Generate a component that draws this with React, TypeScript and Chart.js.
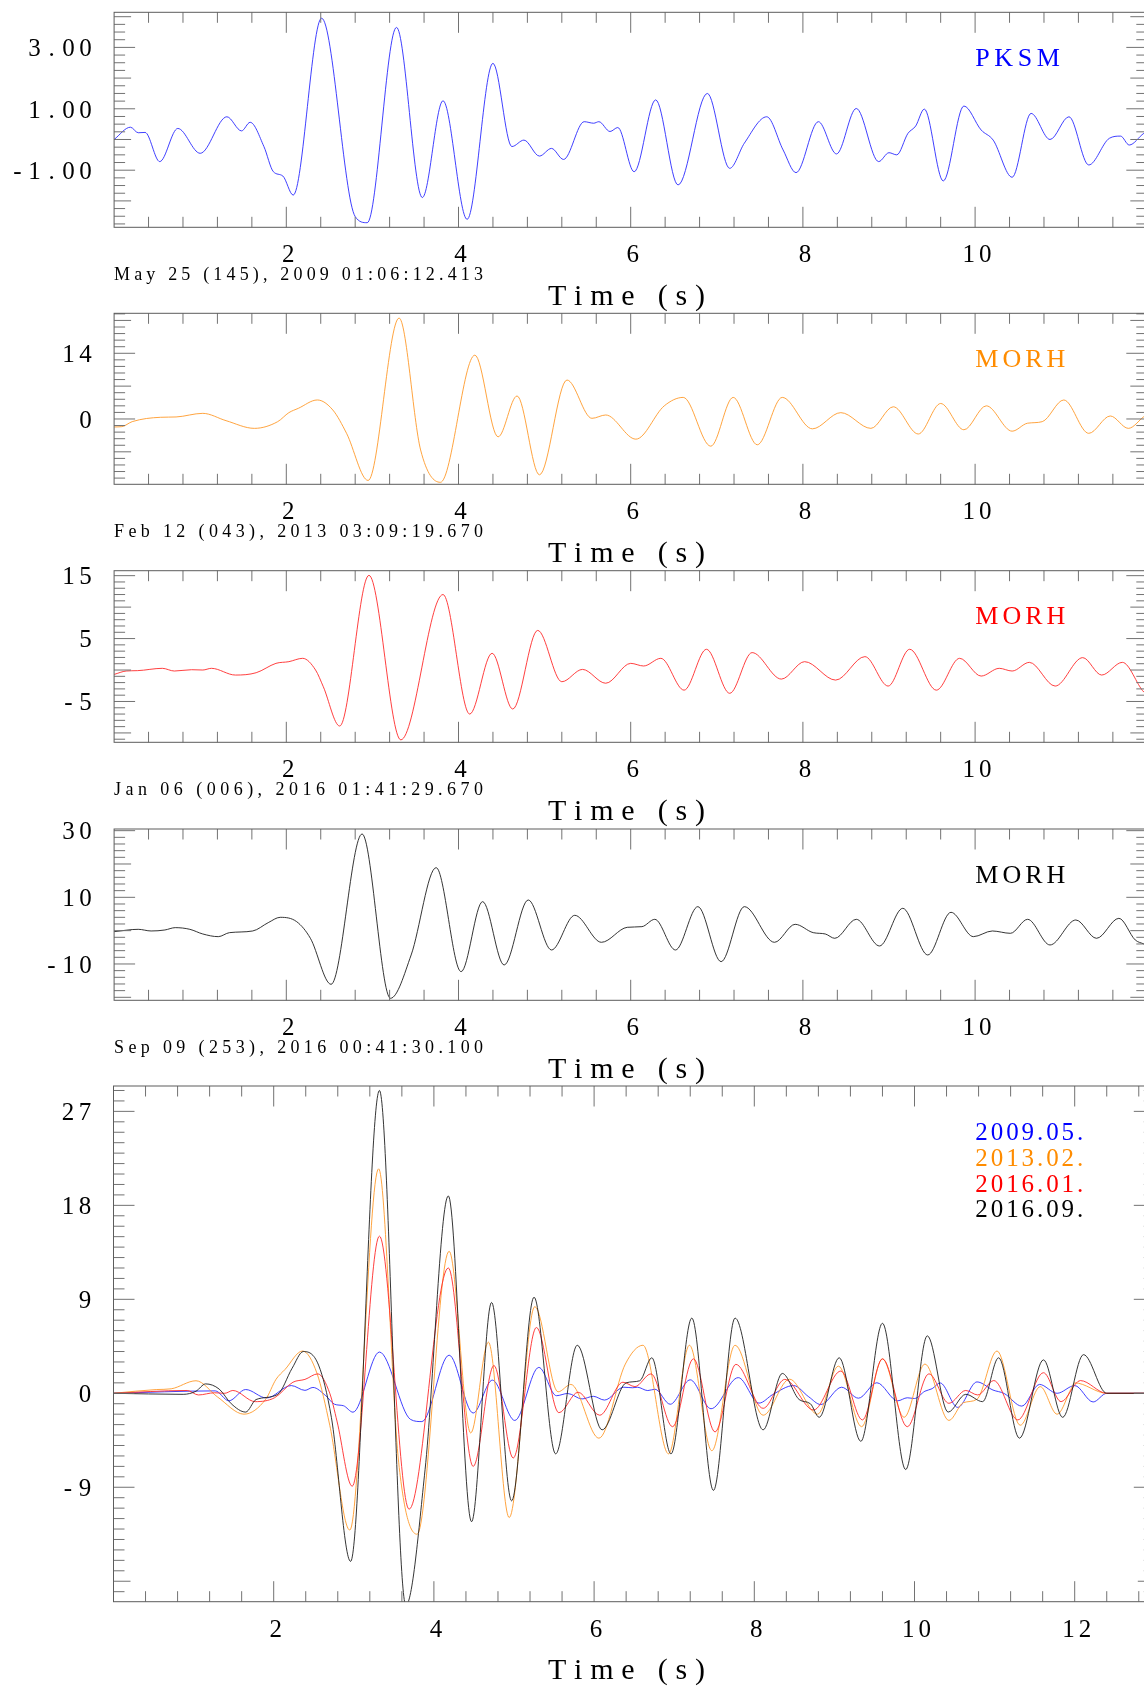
import React, { useEffect, useRef } from "react";
import { Chart, registerables } from "chart.js";

Chart.register(...registerables);

// ---------- waveform samples (time in s, amplitude) ----------
// PKSM, 2009-05-25
const PKSM_T = [0, 0.19, 0.28, 0.36, 0.53, 0.74, 1.0, 1.31, 1.48, 1.58, 1.74, 1.85, 1.96, 2.08, 2.41, 2.8, 2.94, 3.28, 3.58, 3.82, 4.1, 4.4, 4.62, 4.76, 4.94, 5.08, 5.22, 5.46, 5.57, 5.63, 5.76, 5.85, 6.04, 6.29, 6.55, 6.89, 7.15, 7.32, 7.58, 7.77, 7.92, 8.18, 8.39, 8.62, 8.88, 9.0, 9.09, 9.22, 9.31, 9.41, 9.63, 9.87, 10.07, 10.21, 10.43, 10.65, 10.87, 11.09, 11.32, 11.56, 11.69, 11.79, 11.96, 12.0];
const PKSM_V = [0.0, 0.4, 0.22, 0.23, -0.72, 0.36, -0.45, 0.74, 0.28, 0.56, -0.23, -1.05, -1.19, -1.81, 3.95, -2.51, -2.71, 3.65, -1.89, 1.26, -2.6, 2.48, -0.23, -0.02, -0.54, -0.29, -0.65, 0.58, 0.53, 0.58, 0.26, 0.39, -1.05, 1.29, -1.48, 1.5, -0.94, -0.12, 0.74, -0.34, -1.08, 0.58, -0.47, 1.01, -0.72, -0.43, -0.5, 0.2, 0.44, 0.99, -1.35, 1.09, 0.31, -0.02, -1.23, 0.85, 0.0, 0.74, -0.83, 0.04, 0.11, -0.18, 0.2, 0.25];

// MORH, 2013-02-12
const MORH13_T = [0, 0.09, 0.21, 0.54, 0.72, 1.03, 1.3, 1.63, 1.9, 2.03, 2.14, 2.36, 2.54, 2.7, 2.95, 3.31, 3.56, 3.79, 4.19, 4.46, 4.68, 4.94, 5.26, 5.55, 5.71, 6.06, 6.39, 6.61, 6.93, 7.19, 7.47, 7.76, 8.11, 8.44, 8.79, 9.05, 9.34, 9.6, 9.87, 10.13, 10.43, 10.61, 10.78, 11.03, 11.32, 11.57, 11.78, 11.96, 12.0];
const MORH13_V = [-1.7, -1.63, -0.57, 0.36, 0.43, 1.2, -0.36, -2.0, -0.57, 1.35, 2.27, 4.05, 1.92, -3.06, -13.1, 21.5, -6.6, -13.5, 13.6, -3.8, 4.9, -11.9, 8.3, 0.14, 0.85, -4.3, 2.8, 4.6, -5.8, 4.6, -5.5, 4.6, -2.1, 1.35, -2.0, 2.6, -3.2, 3.3, -2.3, 2.8, -2.6, -0.9, -0.57, 4.05, -3.06, 0.64, -2.0, 0.5, 1.0];

// MORH, 2016-01-06
const MORH16A_T = [0, 0.14, 0.27, 0.56, 0.7, 0.9, 1.03, 1.13, 1.41, 1.65, 1.88, 2.03, 2.19, 2.34, 2.43, 2.62, 2.96, 3.33, 3.82, 4.13, 4.39, 4.63, 4.92, 5.2, 5.44, 5.71, 6.0, 6.15, 6.35, 6.62, 6.88, 7.15, 7.41, 7.75, 8.02, 8.38, 8.72, 8.99, 9.24, 9.55, 9.82, 10.07, 10.28, 10.43, 10.63, 10.93, 11.25, 11.47, 11.71, 11.96, 12.0];
const MORH16A_V = [-0.7, -0.16, -0.1, 0.27, -0.16, 0.05, 0.0, 0.27, -0.8, -0.43, 1.06, 1.33, 1.86, 0.0, -2.66, -8.9, 15.05, -11.1, 12.0, -7.0, 2.66, -6.2, 6.3, -1.86, 0.1, -2.1, 1.06, 0.64, 1.86, -3.2, 3.3, -3.7, 2.77, -1.44, 1.33, -1.6, 2.13, -2.55, 3.3, -3.2, 1.86, -0.96, 0.27, -0.16, 1.22, -2.55, 1.97, -0.8, 1.22, -3.5, -3.8];

// MORH, 2016-09-09
const MORH16B_T = [0, 0.28, 0.43, 0.59, 0.71, 0.88, 1.03, 1.21, 1.34, 1.61, 1.79, 1.93, 2.12, 2.28, 2.52, 2.88, 3.21, 3.45, 3.74, 4.03, 4.28, 4.53, 4.81, 5.08, 5.35, 5.66, 5.96, 6.13, 6.28, 6.52, 6.78, 7.05, 7.32, 7.67, 7.91, 8.12, 8.26, 8.37, 8.62, 8.89, 9.16, 9.45, 9.72, 9.98, 10.2, 10.41, 10.61, 10.87, 11.17, 11.41, 11.67, 11.86, 11.96, 12.0];
const MORH16B_V = [-0.3, 0.4, -0.1, 0.2, 0.9, 0.4, -1.0, -1.8, -0.6, -0.1, 2.4, 4.0, 2.7, -2.3, -16.1, 29.0, -20.3, -7.3, 18.9, -12.3, 8.7, -10.3, 9.2, -5.8, 4.6, -3.5, 1.0, 1.2, 3.4, -5.8, 7.2, -9.3, 7.2, -3.5, 1.9, -0.6, -1.0, -2.3, 3.4, -4.6, 6.7, -7.3, 5.5, -1.8, -0.1, -0.8, 3.4, -4.3, 3.2, -2.3, 3.7, -2.8, -4.0, -4.5];

// alignment of each record in the comparison panel (s) and its window
const ALIGN_SHIFT = [0.91, 0.0, 0.36, 0.44];
const ALIGN_LEAD = 0.3;
const ALIGN_END = 12.25;
const ALIGN_ZERO_AT = 12.4;

// dates and labels
const DATES = [
  "May 25 (145), 2009 01:06:12.413",
  "Feb 12 (043), 2013 03:09:19.670",
  "Jan 06 (006), 2016 01:41:29.670",
  "Sep 09 (253), 2016 00:41:30.100",
];
const STATIONS = ["PKSM", "MORH", "MORH", "MORH"];
const LEGEND = ["2009.05.", "2013.02.", "2016.01.", "2016.09."];

const X_LABELS = [2, 4, 6, 8, 10];
const X_LABELS_ALL = [2, 4, 6, 8, 10, 12];
const Y1_TICKS = [3, 1, -1];
const Y1_TEXT = ["3.00", "1.00", "-1.00"];
const Y2_TICKS = [14, 0];
const Y2_TEXT = ["14", "0"];
const Y3_TICKS = [15, 5, -5];
const Y3_TEXT = ["15", "5", "-5"];
const Y4_TICKS = [30, 10, -10];
const Y4_TEXT = ["30", "10", "-10"];
const Y5_TICKS = [27, 18, 9, 0, -9];
const Y5_TEXT = ["27", "18", "9", "0", "-9"];

// ---------- styling ----------
const COLORS = ["#0000ff", "#ff8c00", "#ff0000", "#000000"];
const LINE_COLORS = ["#2a2aff", "#ff9a2a", "#ff2a2a", "#1e1e1e"];
const FRAME = "#5c5c5c";
const TICK = "#727272";
const SERIF = '"Liberation Serif", "Times New Roman", Times, serif';
const CANVAS_W = 1160;
const CANVAS_H = 1686;

type Pt = { x: number; y: number };

function toPoints(t: number[], v: number[]): Pt[] {
  return t.map((x, i) => ({ x, y: v[i] }));
}

function aligned(t: number[], v: number[], shift: number): Pt[] {
  const pts: Pt[] = [{ x: 0, y: 0 }];
  t.forEach((x, i) => {
    const xs = x + shift;
    if (x >= ALIGN_LEAD && xs <= ALIGN_END) pts.push({ x: xs, y: v[i] });
  });
  pts.push({ x: ALIGN_ZERO_AT, y: 0 }, { x: 13, y: 0 });
  return pts;
}

type Series = { data: Pt[]; color: string; order: number };
type PanelCfg = {
  top: number;
  bottom: number;
  left: number;
  right: number;
  xMax: number;
  yMin: number;
  yMax: number;
  xMajor: number;
  xMinor: number;
  yMajor: number;
  yMinor: number;
  xLabels: number[];
  yTicks: number[];
  yText: string[];
  series: Series[];
  date?: string;
  station?: { text: string; color: string; width: number };
  legend?: boolean;
};

const RAW: [number[], number[]][] = [
  [PKSM_T, PKSM_V],
  [MORH13_T, MORH13_V],
  [MORH16A_T, MORH16A_V],
  [MORH16B_T, MORH16B_V],
];

const L14 = 114.1;
const R14 = 114.1 + 12 * 86.1;

const PANELS: PanelCfg[] = [
  {
    top: 12.3, bottom: 227.3, left: L14, right: R14, xMax: 12,
    yMin: -2.86, yMax: 4.143, xMajor: 2, xMinor: 0.4, yMajor: 1, yMinor: 0.25,
    xLabels: X_LABELS, yTicks: Y1_TICKS, yText: Y1_TEXT,
    series: [{ data: toPoints(PKSM_T, PKSM_V), color: LINE_COLORS[0], order: 0 }],
    date: DATES[0], station: { text: STATIONS[0], color: COLORS[0], width: 84.5 },
  },
  {
    top: 313.3, bottom: 484.3, left: L14, right: R14, xMax: 12,
    yMin: -13.92, yMax: 22.52, xMajor: 2, xMinor: 0.4, yMajor: 7, yMinor: 1.4,
    xLabels: X_LABELS, yTicks: Y2_TICKS, yText: Y2_TEXT,
    series: [{ data: toPoints(MORH13_T, MORH13_V), color: LINE_COLORS[1], order: 0 }],
    date: DATES[1], station: { text: STATIONS[1], color: COLORS[1], width: 90 },
  },
  {
    top: 570.7, bottom: 742.3, left: L14, right: R14, xMax: 12,
    yMin: -11.49, yMax: 15.79, xMajor: 2, xMinor: 0.4, yMajor: 5, yMinor: 1,
    xLabels: X_LABELS, yTicks: Y3_TICKS, yText: Y3_TEXT,
    series: [{ data: toPoints(MORH16A_T, MORH16A_V), color: LINE_COLORS[2], order: 0 }],
    date: DATES[2], station: { text: STATIONS[2], color: COLORS[2], width: 90 },
  },
  {
    top: 829, bottom: 1000.3, left: L14, right: R14, xMax: 12,
    yMin: -20.9, yMax: 30.5, xMajor: 2, xMinor: 0.4, yMajor: 10, yMinor: 2,
    xLabels: X_LABELS, yTicks: Y4_TICKS, yText: Y4_TEXT,
    series: [{ data: toPoints(MORH16B_T, MORH16B_V), color: LINE_COLORS[3], order: 0 }],
    date: DATES[3], station: { text: STATIONS[3], color: COLORS[3], width: 90 },
  },
  {
    top: 1086, bottom: 1601.7, left: 113.5, right: 113.5 + 13 * 80.1, xMax: 13,
    yMin: -19.96, yMax: 29.43, xMajor: 2, xMinor: 0.4, yMajor: 9, yMinor: 1,
    xLabels: X_LABELS_ALL, yTicks: Y5_TICKS, yText: Y5_TEXT,
    series: RAW.map(([t, v], i) => ({
      data: aligned(t, v, ALIGN_SHIFT[i]),
      color: LINE_COLORS[i],
      order: 3 - i,
    })),
    legend: true,
  },
];

function steps(min: number, max: number, step: number): number[] {
  const out: number[] = [];
  for (let k = Math.ceil(min / step - 1e-6); k * step <= max + 1e-6; k++) {
    out.push(Math.round(k * step * 1e6) / 1e6);
  }
  return out;
}

function isMultiple(v: number, step: number) {
  const r = v / step;
  return Math.abs(r - Math.round(r)) < 1e-6;
}

// characters laid out on a fixed pitch (axis numbers)
function pitchText(
  ctx: CanvasRenderingContext2D,
  s: string,
  anchor: number,
  baseline: number,
  pitch: number,
  align: "right" | "center"
) {
  const n = s.length;
  ctx.textAlign = "center";
  for (let i = 0; i < n; i++) {
    const cx =
      align === "right"
        ? anchor - 6.3 - (n - 1 - i) * pitch
        : anchor + (i - (n - 1) / 2) * pitch;
    ctx.fillText(s[i], cx, baseline);
  }
}

// letter-spaced text spread over a given width
function spreadText(
  ctx: CanvasRenderingContext2D,
  s: string,
  x: number,
  baseline: number,
  width: number
) {
  ctx.textAlign = "left";
  const chars = [...s];
  const ws = chars.map((c) => ctx.measureText(c).width);
  const natural = ws.reduce((a, b) => a + b, 0);
  const gap = chars.length > 1 ? (width - natural) / (chars.length - 1) : 0;
  let cx = x;
  chars.forEach((c, i) => {
    ctx.fillText(c, cx, baseline);
    cx += ws[i] + gap;
  });
}

function decor(cfg: PanelCfg) {
  return {
    id: "seisDecor",
    afterDatasetsDraw(chart: Chart) {
      const ctx = chart.ctx;
      const a = chart.chartArea;
      const xs = chart.scales.x;
      const ys = chart.scales.y;
      ctx.save();

      // ticks, pointing into the plot on all four sides
      ctx.strokeStyle = TICK;
      ctx.lineWidth = 1;
      ctx.beginPath();
      const xAll = steps(0, cfg.xMax, cfg.xMinor);
      xAll.forEach((v) => {
        if (v <= 0) return;
        const px = xs.getPixelForValue(v);
        const len = isMultiple(v, cfg.xMajor) ? 20.5 : 10.5;
        ctx.moveTo(px, a.bottom);
        ctx.lineTo(px, a.bottom - len);
        ctx.moveTo(px, a.top);
        ctx.lineTo(px, a.top + len);
      });
      const yAll = steps(cfg.yMin, cfg.yMax, cfg.yMinor);
      const yMaj = steps(cfg.yMin, cfg.yMax, cfg.yMajor);
      const tickSet = new Set<number>([...yAll, ...yMaj]);
      tickSet.forEach((v) => {
        const py = ys.getPixelForValue(v);
        const labelled = cfg.yTicks.some((t) => Math.abs(t - v) < 1e-6);
        const major = isMultiple(v, cfg.yMajor);
        const len = labelled ? 21 : major ? 17 : 11;
        ctx.moveTo(a.left, py);
        ctx.lineTo(a.left + len, py);
        ctx.moveTo(a.right, py);
        ctx.lineTo(a.right - len, py);
      });
      ctx.stroke();

      // frame
      ctx.strokeStyle = FRAME;
      ctx.strokeRect(a.left, a.top, a.right - a.left, a.bottom - a.top);

      // axis numbers
      ctx.fillStyle = "#000";
      ctx.font = `25px ${SERIF}`;
      ctx.textBaseline = "alphabetic";
      cfg.yTicks.forEach((v, i) => {
        pitchText(ctx, cfg.yText[i], a.left - 22.3, ys.getPixelForValue(v) + 8.8, 17, "right");
      });
      cfg.xLabels.forEach((v) => {
        pitchText(ctx, String(v), xs.getPixelForValue(v) + 2, a.bottom + 35, 16.5, "center");
      });

      // record time under the axis
      if (cfg.date) {
        ctx.font = `18px ${SERIF}`;
        spreadText(ctx, cfg.date, 114, a.bottom + 52.5, 369);
      }

      // axis title
      ctx.font = `30px ${SERIF}`;
      spreadText(ctx, "Time (s)", 548, a.bottom + 77.5, 157);

      // station name
      if (cfg.station) {
        ctx.fillStyle = cfg.station.color;
        ctx.font = `26px ${SERIF}`;
        spreadText(ctx, cfg.station.text, 975.3, a.top + 53.7, cfg.station.width);
      }

      // event legend
      if (cfg.legend) {
        ctx.font = `25px ${SERIF}`;
        LEGEND.forEach((txt, i) => {
          ctx.fillStyle = COLORS[i];
          spreadText(ctx, txt, 975.3, a.top + 54 + i * 25.8, 108);
        });
      }
      ctx.restore();
    },
  };
}

export default function App() {
  const refs = useRef<(HTMLCanvasElement | null)[]>([]);

  useEffect(() => {
    const charts: Chart[] = [];
    PANELS.forEach((cfg, i) => {
      const canvas = refs.current[i];
      if (!canvas) return;
      const chart = new Chart(canvas, {
        type: "line",
        data: {
          datasets: cfg.series.map((s) => ({
            data: s.data,
            borderColor: s.color,
            backgroundColor: s.color,
            borderWidth: 0.9,
            pointRadius: 0,
            fill: false,
            cubicInterpolationMode: "monotone" as const,
            order: s.order,
          })),
        },
        options: {
          responsive: false,
          animation: false,
          devicePixelRatio: 1,
          events: [],
          layout: {
            padding: {
              left: cfg.left,
              top: cfg.top,
              right: CANVAS_W - cfg.right,
              bottom: CANVAS_H - cfg.bottom,
            },
          },
          scales: {
            x: { type: "linear", min: 0, max: cfg.xMax, display: false },
            y: { type: "linear", min: cfg.yMin, max: cfg.yMax, display: false },
          },
          plugins: {
            legend: { display: false },
            tooltip: { enabled: false },
          },
        },
        plugins: [decor(cfg)],
      });
      charts.push(chart);
    });
    return () => charts.forEach((c) => c.destroy());
  }, []);

  return (
    <div
      style={{
        position: "fixed",
        left: 0,
        top: 0,
        width: 1144,
        height: 1686,
        overflow: "hidden",
        background: "#ffffff",
      }}
    >
      {PANELS.map((_, i) => (
        <canvas
          key={i}
          ref={(el) => {
            refs.current[i] = el;
          }}
          width={CANVAS_W}
          height={CANVAS_H}
          style={{ position: "absolute", left: 0, top: 0, width: CANVAS_W, height: CANVAS_H }}
        />
      ))}
    </div>
  );
}
